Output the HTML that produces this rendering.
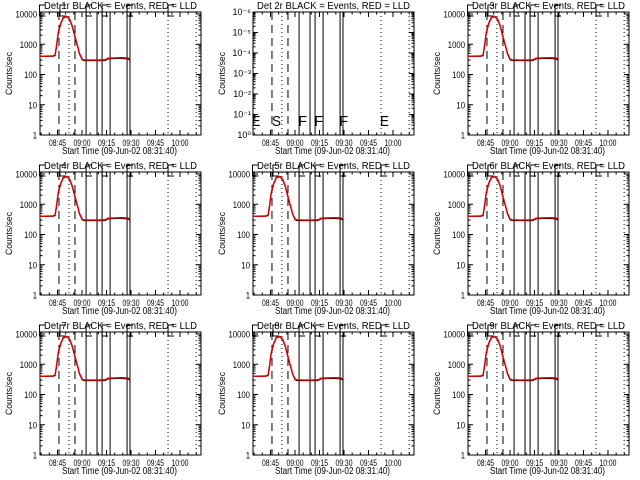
<!DOCTYPE html>
<html><head><meta charset="utf-8"><style>
body{margin:0;background:#fff;}
svg{display:block;font-family:"Liberation Sans",sans-serif;}
</style></head><body>
<svg id="chart" width="640" height="480" viewBox="0 0 640 480" xmlns="http://www.w3.org/2000/svg"></svg>
<script>
// Data (time in minutes since 08:30)
const detectors = ['1r','2r','3r','4r','5r','6r','7r','8r','9r'];
const tickTimes = [15,30,45,60,75,90];
const tickLabels = ['08:45','09:00','09:15','09:30','09:45','10:00'];
const dashedTimes = [15.9,25.7];
const dottedTimes = [22,82.7,99.9];
const solidTimes = [32.5,39.2,42.3,47.2,57.6,59.4];
const flagTimes = [4,16.5,32.5,42.3,57.6,82.7];
const flagLetters = ['E','S','F','F','F','E'];
const curveT = [4.3,12,13.5,14.5,15.5,17,18.5,20,21,22.5,24,25.5,27,28.5,30,31,36,40,44,46,50,54,58,59.4];
const eventsV = [400,400,420,900,2300,4800,7300,8100,7900,6400,3900,1900,950,480,310,290,290,290,290,330,340,340,330,300];
const lldV = [400,410,440,1000,2500,5000,7600,8400,8200,6700,4100,2000,1000,500,330,305,300,300,305,345,355,360,350,330];
const yTickVals = [1,10,100,1000,10000];
const yTickText = ['1','10','100','1000','10000'];
const emptyYLabels = ['10⁰','10⁻¹','10⁻²','10⁻³','10⁻⁴','10⁻⁵','10⁻⁶'];

const svg = document.getElementById('chart');
const NS = 'http://www.w3.org/2000/svg';
function mk(tag, attrs, parent){
  const e = document.createElementNS(NS, tag);
  for (const k in attrs) e.setAttribute(k, attrs[k]);
  parent.appendChild(e);
  return e;
}
const W = 161, H = 123, DEC = 30.25;
const colX = [40,253,468], rowY = [12,172,332];

detectors.forEach((det, i) => {
  const L = colX[i % 3], T = rowY[Math.floor(i / 3)], R = L + W, B = T + H;
  const g = mk('g', {}, svg);
  
  
  const xs = t => L + 17.5 + (t - 15) * 1.633;
  const ys = v => B - Math.log10(v) * DEC;
  const empty = det === '2r';

  const tt = mk('text', {x: L + W / 2, y: T - 3, 'font-size': 10, 'text-anchor': 'middle', textLength: 153, lengthAdjust: 'spacingAndGlyphs', fill: '#000'}, g);
  tt.textContent = 'Det ' + det + ' BLACK = Events, RED = LLD';
  
  

  const box = mk('rect', {x: L, y: T, width: W, height: H, fill: 'none', stroke: '#000', 'stroke-width': 1}, g);
  
  

  const yt = mk('text', {x: 0, y: 0, 'font-size': 9, 'text-anchor': 'middle', textLength: 43, lengthAdjust: 'spacingAndGlyphs', transform: `translate(${L - 28},${T + H / 2}) rotate(-90)`}, g);
  yt.textContent = 'Counts/sec';
  
  

  const xt = mk('text', {x: L + W / 2 - 1, y: B + 19, 'font-size': 10, 'text-anchor': 'middle', textLength: 115, lengthAdjust: 'spacingAndGlyphs'}, g);
  xt.textContent = 'Start Time (09-Jun-02 08:31:40)';
  
  

  tickTimes.forEach((t, k) => {
    const x = xs(t);
    mk('line', {x1: x, x2: x, y1: B, y2: B - 5, stroke: '#000'}, g);
    mk('line', {x1: x, x2: x, y1: T, y2: T + 5, stroke: '#000'}, g);
    const lb = mk('text', {x: x, y: B + 11, 'font-size': 9, 'text-anchor': 'middle', textLength: 17, lengthAdjust: 'spacingAndGlyphs'}, g);
    lb.textContent = tickLabels[k];
    
    
  });
  for (let t = 5; t < 105; t += 5) {
    const x = xs(t);
    if (x <= L || x >= R) continue;
    mk('line', {x1: x, x2: x, y1: B, y2: B - 2.5, stroke: '#000'}, g);
    mk('line', {x1: x, x2: x, y1: T, y2: T + 2.5, stroke: '#000'}, g);
  }

  if (empty) {
    const sp = H / 6;
    emptyYLabels.forEach((lab, k) => {
      const y = B - k * sp;
      mk('line', {x1: L, x2: L + 5, y1: y, y2: y, stroke: '#000'}, g);
      mk('line', {x1: R, x2: R - 5, y1: y, y2: y, stroke: '#000'}, g);
      const lb = mk('text', {x: L - 2, y: y + 3, 'font-size': 9, 'text-anchor': 'end'}, g);
      lb.textContent = lab;
      
      
      if (k < 6) for (let m = 2; m < 10; m++) {
        const yy = y - Math.log10(m) * sp;
        mk('line', {x1: L, x2: L + 2.5, y1: yy, y2: yy, stroke: '#000'}, g);
        mk('line', {x1: R, x2: R - 2.5, y1: yy, y2: yy, stroke: '#000'}, g);
      }
    });
  } else {
    yTickVals.forEach((v, k) => {
      const y = ys(v);
      mk('line', {x1: L, x2: L + 5, y1: y, y2: y, stroke: '#000'}, g);
      mk('line', {x1: R, x2: R - 5, y1: y, y2: y, stroke: '#000'}, g);
      const lb = mk('text', {x: L - 3, y: y + 3.5, 'font-size': 9, 'text-anchor': 'end', textLength: yTickText[k].length * 4.3, lengthAdjust: 'spacingAndGlyphs'}, g);
      lb.textContent = yTickText[k];
      
      
      for (let m = 2; m < 10; m++) {
        const yy = ys(v * m);
        if (yy < T) continue;
        mk('line', {x1: L, x2: L + 2.5, y1: yy, y2: yy, stroke: '#000'}, g);
        mk('line', {x1: R, x2: R - 2.5, y1: yy, y2: yy, stroke: '#000'}, g);
      }
    });
  }

  dashedTimes.forEach(t => {
    const l = mk('line', {x1: xs(t), x2: xs(t), y1: T, y2: B, stroke: '#000', 'stroke-dasharray': '8,5'}, g);
    
    
  });
  dottedTimes.forEach(t => {
    const l = mk('line', {x1: xs(t), x2: xs(t), y1: T, y2: B, stroke: '#000', 'stroke-dasharray': '1,3'}, g);
    
    
  });
  solidTimes.forEach(t => {
    const l = mk('line', {x1: xs(t), x2: xs(t), y1: T, y2: B, stroke: '#000'}, g);
    
    
  });

  flagTimes.forEach((t, k) => {
    const x = xs(t);
    if (empty) {
      const f = mk('text', {x: x - 1, y: B - 9, 'font-size': 15, fill: '#000', textLength: 9, lengthAdjust: 'spacingAndGlyphs'}, g);
      f.textContent = flagLetters[k];
      
      
    } else {
      const p = mk('path', {d: `M${x + 6},${T - 7} L${x},${T - 7} L${x},${T + 4} L${x + 6},${T + 4}`, fill: 'none', stroke: '#000'}, g);
      
      
    }
  });

  if (!empty) {
    const ptsE = curveT.map((t, k) => xs(t).toFixed(1) + ',' + ys(eventsV[k]).toFixed(1)).join(' ');
    const ptsL = curveT.map((t, k) => xs(t).toFixed(1) + ',' + ys(lldV[k]).toFixed(1)).join(' ');
    const le = mk('polyline', {points: ptsE, fill: 'none', stroke: '#000', 'stroke-width': 1.2}, g);
    
    
    const ll = mk('polyline', {points: ptsL, fill: 'none', stroke: '#e00000', 'stroke-width': 1.4}, g);
    
    
  }
});
</script>
</body></html>
